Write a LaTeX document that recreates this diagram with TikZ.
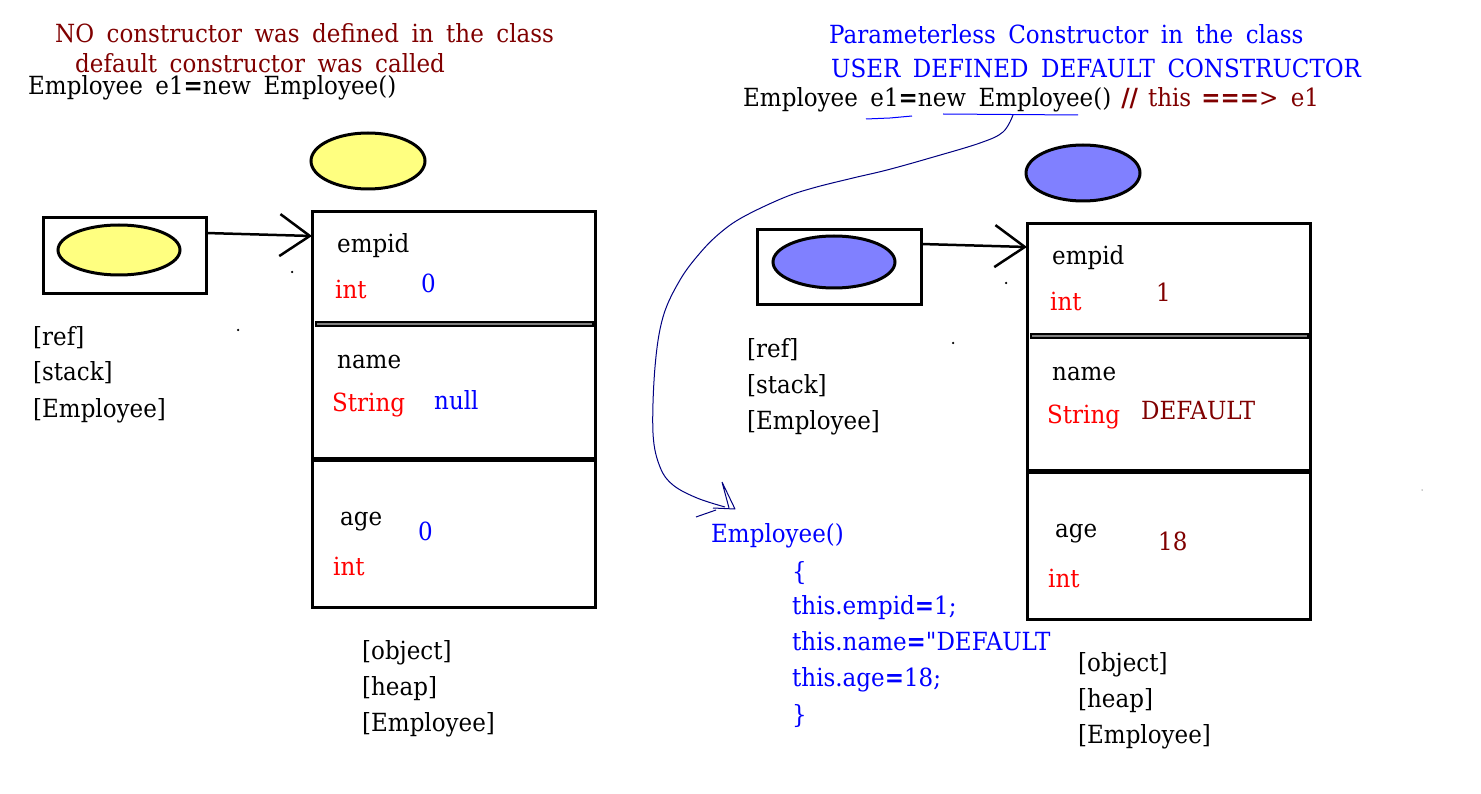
\documentclass[tikz,border=0pt]{standalone}
\usepackage{fontspec}
\setmainfont{DejaVu Serif}[FakeStretch=0.92]
\newfontfamily\qfont{DejaVu Serif}[FakeStretch=0.92]
\usetikzlibrary{arrows.meta}
\definecolor{dred}{HTML}{800000}
\definecolor{tblue}{HTML}{0000FF}
\definecolor{tred}{HTML}{FF0000}
\definecolor{yfill}{HTML}{FFFF80}
\definecolor{bfill}{HTML}{8080FF}
\definecolor{navy}{HTML}{000080}
\newcommand\wgap{\hspace{12.5pt}}
\begin{document}
\begin{tikzpicture}[x=1pt,y=-1pt,
  lbl/.style={anchor=base west,inner sep=0pt,font=\fontsize{25}{29}\selectfont},
  box/.style={draw=black,line width=3pt,rectangle,inner sep=0pt},
  oval/.style={draw=black,line width=3pt},
  conn/.style={line width=2.5pt,-{Straight Barb[length=30pt,width=42pt,line width=2.5pt]}},
  sep1/.style={draw=black,fill=gray,line width=1.2pt},
  sep2/.style={line width=5pt},
  dotm/.style={circle,fill=black,inner sep=0pt,minimum size=2.5pt}
]
\useasboundingbox (0,0) rectangle (1481,794);
\fill[white] (0,0) rectangle (1481,794);

% ---------- left titles
\node[lbl,text=dred] (lt1) at (55,43) {NO\wgap constructor\wgap was\wgap defined\wgap in\wgap the\wgap class};
\node[lbl,text=dred] (lt2) at (75,73) {default\wgap constructor\wgap was\wgap called};
\node[lbl] (lt3) at (28,95) {Employee\wgap e1\textbf{=}new\wgap Employee()};

% ---------- left stack
\draw[oval,fill=yfill] (368,161) ellipse [x radius=57,y radius=28];
\node[box,minimum width=163pt,minimum height=76pt] (lref) at (124.5,256) {};
\draw[oval,fill=yfill] (119,250) ellipse [x radius=61,y radius=25];
\node[lbl] (ls1) at (33,345) {[ref]};
\node[lbl] (ls2) at (33,381) {[stack]};
\node[lbl] (ls3) at (33,417) {[Employee]};
\node[dotm] (ld1) at (292,272) {};
\node[dotm] (ld2) at (238,330) {};

% ---------- left object
\node[box,minimum width=283pt,minimum height=395pt] (lobj) at (453.5,409.5) {};
\draw[sep1] (316,322) rectangle (593,326);
\draw[sep2] (312,459) -- (597,459);
\coordinate (la1) at (206,233);
\coordinate (la2) at (312,236);
\draw[conn] (la1) -- (la2);
\node[lbl] at (337,253) {empid};
\node[lbl,text=tred] at (335,299) {int};
\node[lbl,text=tblue] at (421,293) {0};
\node[lbl] at (337,369) {name};
\node[lbl,text=tred] at (332,411) {String};
\node[lbl,text=tblue] at (434,409) {null};
\node[lbl] at (340,525) {age};
\node[lbl,text=tblue] at (418,540) {0};
\node[lbl,text=tred] at (333,575) {int};
\node[lbl] at (362,659) {[object]};
\node[lbl] at (362,695) {[heap]};
\node[lbl] at (362,731) {[Employee]};

% ---------- right titles
\node[lbl,text=tblue] (rt1) at (829,44) {Parameterless\wgap Constructor\wgap in\wgap the\wgap class};
\node[lbl,text=tblue] (rt2) at (831,78) {USER\wgap DEFINED\wgap DEFAULT\wgap CONSTRUCTOR};
\node[lbl] (rt3) at (743,107) {Employee\wgap e1\textbf{=}new\wgap Employee()\hspace{10pt}\textcolor{dred}{\textbf{//}\hspace{10pt}this\hspace{10pt}\textbf{===}>\wgap e1}};
\draw[tblue,line width=1pt] (866,119) -- (890,118) -- (912,116);
\draw[tblue,line width=1pt] (943,114) -- (1078,115);

% ---------- curve
\coordinate (cs) at (1013,115);
\coordinate (ce) at (725,507);
\draw[navy,line width=1pt] plot[smooth,tension=0.6] coordinates {(cs) (1003,132) (980,143) (930,158) (887,170) (853,178) (813,188) (783,198) (743,217) (720,233) (700,253) (680,280) (663,317) (655,367) (653,433) (660,467) (673,485) (697,498) (ce)};
\draw[navy,line width=1pt,line join=round] (722,482) -- (735,509) -- (713,508) (722,482) -- (729,508) (696,517) -- (716,510);

% ---------- right stack
\draw[oval,fill=bfill] (1083,173) ellipse [x radius=57,y radius=28];
\node[box,minimum width=164pt,minimum height=75pt] (rref) at (839,267.5) {};
\draw[oval,fill=bfill] (834,262) ellipse [x radius=61,y radius=26];
\node[lbl] at (747,357) {[ref]};
\node[lbl] at (747,393) {[stack]};
\node[lbl] at (747,429) {[Employee]};
\node[dotm] at (1006,283) {};
\node[dotm] at (953,343) {};
\node[circle,fill=black!40,inner sep=0pt,minimum size=1.5pt] at (1422,490) {};

% ---------- right object
\node[box,minimum width=283pt,minimum height=395pt] (robj) at (1168.5,421.5) {};
\draw[sep1] (1031,334) rectangle (1308,338);
\draw[sep2] (1027,471) -- (1312,471);
\coordinate (ra1) at (921,244);
\coordinate (ra2) at (1027,247);
\draw[conn] (ra1) -- (ra2);
\node[lbl] at (1052,265) {empid};
\node[lbl,text=tred] at (1050,311) {int};
\node[lbl,text=dred] at (1156,302) {1};
\node[lbl] at (1052,381) {name};
\node[lbl,text=tred] at (1047,423) {String};
\node[lbl,text=dred] at (1141,419) {DEFAULT};
\node[lbl] at (1055,537) {age};
\node[lbl,text=dred] at (1158,550) {18};
\node[lbl,text=tred] at (1048,587) {int};
\node[lbl] at (1078,671) {[object]};
\node[lbl] at (1078,707) {[heap]};
\node[lbl] at (1078,743) {[Employee]};

% ---------- code
\node[lbl,text=tblue] at (711,542) {Employee()};
\node[lbl,text=tblue] at (792,580) {\{};
\node[lbl,text=tblue] at (792,614) {this.empid\textbf{=}1;};
\begin{scope}
\clip (780,620) rectangle (1050,660);
\node[lbl,text=tblue] at (792,650) {this.name\textbf{=}{\qfont"}DEFAULT};
\end{scope}
\node[lbl,text=tblue] at (792,686) {this.age\textbf{=}18;};
\node[lbl,text=tblue] at (792,723) {\}};
\end{tikzpicture}
\end{document}
